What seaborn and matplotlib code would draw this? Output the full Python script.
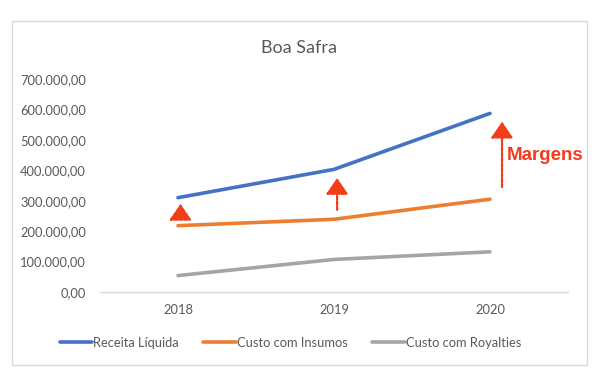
import matplotlib
matplotlib.use("Agg")
import matplotlib.pyplot as plt
from matplotlib.patches import Rectangle
from matplotlib.ticker import FuncFormatter
import seaborn as sns
import pandas as pd

years = ["2018", "2019", "2020"]
receita = [310000, 403000, 587000]
insumos = [218000, 239000, 305000]
royalties = [54000, 107000, 132000]
series_names = ["Receita Líquida", "Custo com Insumos", "Custo com Royalties"]
colors = ["#4472C4", "#ED7D31", "#A5A5A5"]
yticks = [0, 100000, 200000, 300000, 400000, 500000, 600000, 700000]

rows = []
for name, vals in zip(series_names, [receita, insumos, royalties]):
    for i, (y, v) in enumerate(zip(years, vals)):
        rows.append({"idx": i, "Ano": y, "Valor": v, "Série": name})
df = pd.DataFrame(rows)

sns.set_theme(style="white")
plt.rcParams["font.family"] = ["Lato", "DejaVu Sans"]

fig = plt.figure(figsize=(5.99, 3.79), dpi=100)
ax = fig.add_axes([100/599, 1-292/379, 468/599, 213/379])

sns.lineplot(data=df, x="idx", y="Valor", hue="Série", hue_order=series_names,
             palette=colors, linewidth=2.6, ax=ax, sort=False, legend=True)

ax.set_xlim(-0.5, 2.5)
ax.set_ylim(0, 700000)
ax.set_xticks(range(len(years)))
ax.set_xticklabels(years)
ax.set_yticks(yticks)

def fmt(v, pos):
    s = f"{v:,.2f}"
    return s.replace(",", "X").replace(".", ",").replace("X", ".")
ax.yaxis.set_major_formatter(FuncFormatter(fmt))
ax.tick_params(axis="both", length=0, labelsize=9.3, colors="#595959")
ax.tick_params(axis="y", pad=10)
ax.tick_params(axis="x", pad=9)
ax.set_xlabel("")
ax.set_ylabel("")
for s in ["top", "right", "left"]:
    ax.spines[s].set_visible(False)
ax.spines["bottom"].set_color("#D9D9D9")
ax.spines["bottom"].set_linewidth(1)

fig.text(299/599, 1-48/379, "Boa Safra", ha="center", va="center",
         fontsize=13, color="#595959")

# Red margin arrows
red = "#F23C1A"
arrows = [(0.016, 244000, 0.016, 290000),
          (1.02, 270000, 1.02, 375000),
          (2.077, 345000, 2.077, 560000)]
for x0, y0, x1, y1 in arrows:
    ax.annotate("", xy=(x1, y1), xytext=(x0, y0),
                arrowprops=dict(arrowstyle="-|>,head_length=1.0,head_width=0.68",
                                mutation_scale=10,
                                color=red, lw=1.6, linestyle=(0, (1.5, 0.8)),
                                shrinkA=0, shrinkB=0),
                annotation_clip=False)
ax.text(2.11, 447000, "Margens", color=red, fontsize=13.5, fontweight="bold",
        ha="left", va="center", family=["Liberation Sans", "DejaVu Sans"])

handles, labels = ax.get_legend_handles_labels()
ax.legend_.remove()
fig.legend(handles, labels, loc="center", bbox_to_anchor=(0.485, 1-343/379),
           ncol=3, frameon=False, fontsize=9.3, handlelength=2.5,
           handletextpad=0.1, columnspacing=1.9, labelcolor="#595959")

fig.add_artist(Rectangle((11.5/599, 1-365/379), (587-11.5)/599, (365-21)/379,
                         transform=fig.transFigure, fill=False,
                         edgecolor="#D9D9D9", linewidth=1))

fig.savefig("out.png", dpi=100)
